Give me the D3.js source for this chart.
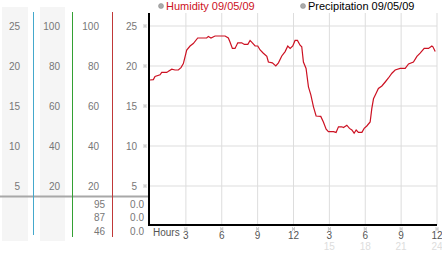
<!DOCTYPE html>
<html>
<head>
<meta charset="utf-8">
<script src="https://cdn.jsdelivr.net/npm/d3@7"></script>
<style>
body { margin: 0; background: #fff; }
text { font-family: "Liberation Sans", Arial, sans-serif; }
</style>
</head>
<body>
<div id="chart"></div>
<script>
// humidity readings, hour of day -> value
var hours = [0, 0.28, 0.42, 0.84, 0.98, 1.40, 1.51, 1.82, 2.09, 2.37, 2.59, 2.79, 3.07, 3.35, 3.62, 3.99,
  4.74, 4.88, 5.10, 5.44, 6.28, 6.55, 6.69, 6.89, 7.11, 7.34, 7.67, 7.89, 8.18, 8.37, 8.56, 8.79, 9.01,
  9.21, 9.48, 9.77, 9.90, 10.23, 10.52, 10.74, 11.02, 11.30, 11.52, 11.72, 11.94, 12.13, 12.33, 12.55,
  12.69, 12.83, 13.05, 13.25, 13.45, 13.67, 13.89, 14.28, 14.50, 14.73, 14.92, 15.34, 15.56, 15.76,
  16.04, 16.18, 16.46, 16.68, 16.88, 17.07, 17.24, 17.43, 17.72, 17.91, 18.13, 18.41, 18.55, 18.69,
  18.91, 19.10, 19.39, 19.67, 19.94, 20.23, 20.50, 20.92, 21.34, 21.62, 22.03, 22.32, 22.59, 22.93,
  23.29, 23.57, 23.66, 23.85];
var humidity = [18.25, 18.3, 18.7, 18.9, 19.2, 19.2, 19.3, 19.6, 19.5, 19.5, 19.8, 20.3, 22.0, 22.5, 22.8, 23.5,
  23.5, 23.7, 23.5, 23.75, 23.75, 23.5, 23.0, 22.2, 22.2, 22.9, 22.9, 22.7, 22.7, 23.2, 22.9, 22.5, 22.5,
  22.0, 21.6, 21.2, 20.5, 20.4, 20.0, 20.4, 21.25, 21.8, 22.5, 22.2, 22.5, 23.2, 23.2, 22.6,
  22.4, 20.5, 19.7, 17.4, 16.4, 14.9, 13.75, 13.7, 13.0, 12.1, 11.8, 11.8, 11.7, 12.4,
  12.4, 12.3, 12.6, 12.2, 12.0, 11.6, 12.0, 11.7, 11.7, 12.2, 12.5, 13.0, 14.7, 15.9,
  16.6, 17.2, 17.5, 18.0, 18.5, 19.1, 19.5, 19.7, 19.7, 20.25, 20.5, 21.2, 21.6, 22.2,
  22.2, 22.5, 22.4, 21.8];

var yTicks = [5, 10, 15, 20, 25];
var col1Labels = ["5", "10", "15", "20", "25"];
var col2Labels = ["20", "40", "60", "80", "100"];
var col3Labels = ["20", "40", "60", "80", "100"];
var col4Labels = ["5", "10", "15", "20", "25"];
var xTicks = [3, 6, 9, 12, 15, 18, 21, 24];
var xLabels = ["3", "6", "9", "12", "3", "6", "9", "12"];
var xLabels24 = ["", "", "", "", "15", "18", "21", "24"];
var lowRowA = ["95", "87", "46"];
var lowRowB = ["0.0", "0.0", "0.0"];

var w = 442, h = 253;
var svg = d3.select('#chart').append("svg")
  .attr("width", w).attr("height", h);

var x = d3.scaleLinear().domain([0, 24]).range([150, 437]);
var y = d3.scaleLinear().domain([0, 25]).range([226, 26]);

// gray bands on the left
svg.append("rect").attr("x", 2).attr("y", 7).attr("width", 26).attr("height", 234).attr("fill", "#f5f5f5");
svg.append("rect").attr("x", 40).attr("y", 7).attr("width", 25).attr("height", 234).attr("fill", "#f5f5f5");

// grid
svg.selectAll(".hgrid").data(yTicks).enter().append("line")
  .attr("x1", 150).attr("x2", 437)
  .attr("y1", function(d){ return y(d); }).attr("y2", function(d){ return y(d); })
  .attr("stroke", "#dddddd");
svg.selectAll(".vgrid").data(xTicks).enter().append("line")
  .attr("x1", function(d){ return x(d); }).attr("x2", function(d){ return x(d); })
  .attr("y1", 13).attr("y2", 225)
  .attr("stroke", "#dddddd");

// separator line across the left panel
svg.append("line").attr("x1", 0).attr("x2", 149).attr("y1", 196.5).attr("y2", 196.5)
  .attr("stroke", "#a8a8a8").attr("stroke-width", 2);

// coloured dividers
var dividers = [[33, "#44a8cc", 235], [72, "#33a033", 237], [112, "#c03838", 237]];
dividers.forEach(function(d){
  svg.append("line").attr("x1", d[0] + 0.5).attr("x2", d[0] + 0.5)
    .attr("y1", 12).attr("y2", d[2]).attr("stroke", d[1]).attr("stroke-width", 1);
});

// left tick labels
function colLabels(labels, xr){
  svg.selectAll(null).data(labels).enter().append("text")
    .attr("x", xr).attr("y", function(d, i){ return y(yTicks[i]) + 4; })
    .attr("text-anchor", "end").attr("font-size", 10).attr("fill", "#777")
    .text(function(d){ return d; });
}
colLabels(col1Labels, 20);
colLabels(col2Labels, 60);
colLabels(col3Labels, 99);
colLabels(col4Labels, 137);

// tiny checker marks used next to ticks
function mark(cx, cy){
  var g = svg.append("g").attr("transform", "translate(" + (cx - 1.5) + "," + (cy - 1.5) + ")");
  [[0, 0], [2, 0], [1, 1], [0, 2], [2, 2]].forEach(function(p){
    g.append("rect").attr("x", p[0]).attr("y", p[1]).attr("width", 1).attr("height", 1).attr("fill", "#999");
  });
}
yTicks.forEach(function(d){ mark(145, y(d)); });
xTicks.forEach(function(d){ mark(x(d), 229); });

// lower rows
var rowY = [208, 221, 235];
svg.selectAll(null).data(lowRowA).enter().append("text")
  .attr("x", 105).attr("y", function(d, i){ return rowY[i]; })
  .attr("text-anchor", "end").attr("font-size", 10).attr("fill", "#777")
  .text(function(d){ return d; });
svg.selectAll(null).data(lowRowB).enter().append("text")
  .attr("x", 144).attr("y", function(d, i){ return rowY[i]; })
  .attr("text-anchor", "end").attr("font-size", 10).attr("fill", "#777")
  .text(function(d){ return d; });

// axes
svg.append("line").attr("x1", 149).attr("x2", 149).attr("y1", 13).attr("y2", 226)
  .attr("stroke", "#000").attr("stroke-width", 2);
svg.append("line").attr("x1", 148).attr("x2", 437).attr("y1", 225).attr("y2", 225)
  .attr("stroke", "#000").attr("stroke-width", 2);

// x labels
svg.append("text").attr("x", 153).attr("y", 236).attr("font-size", 10).attr("fill", "#555").text("Hours");
svg.selectAll(".xl").data(xLabels).enter().append("text")
  .attr("x", function(d, i){ return x(xTicks[i]); }).attr("y", 239)
  .attr("text-anchor", "middle").attr("font-size", 10).attr("fill", "#555")
  .text(function(d){ return d; });
svg.selectAll(".xl2").data(xLabels24).enter().append("text")
  .attr("x", function(d, i){ return x(xTicks[i]); }).attr("y", 250)
  .attr("text-anchor", "middle").attr("font-size", 10).attr("fill", "#dddddd")
  .text(function(d){ return d; });

// humidity line
var line = d3.line()
  .x(function(d, i){ return x(hours[i]); })
  .y(function(d){ return y(d); });
svg.append("path").datum(humidity)
  .attr("d", line).attr("fill", "none")
  .attr("stroke", "#cc1122").attr("stroke-width", 1.2);

// legend
svg.append("circle").attr("cx", 161).attr("cy", 6).attr("r", 2.5)
  .attr("fill", "#aaa").attr("stroke", "#888").attr("stroke-width", 0.5);
svg.append("text").attr("x", 166).attr("y", 10).attr("font-size", 11).attr("fill", "#cc1122")
  .text("Humidity 09/05/09");
svg.append("circle").attr("cx", 303).attr("cy", 6).attr("r", 2.5)
  .attr("fill", "#aaa").attr("stroke", "#888").attr("stroke-width", 0.5);
svg.append("text").attr("x", 308).attr("y", 10).attr("font-size", 11).attr("fill", "#000")
  .text("Precipitation 09/05/09");
</script>
</body>
</html>
